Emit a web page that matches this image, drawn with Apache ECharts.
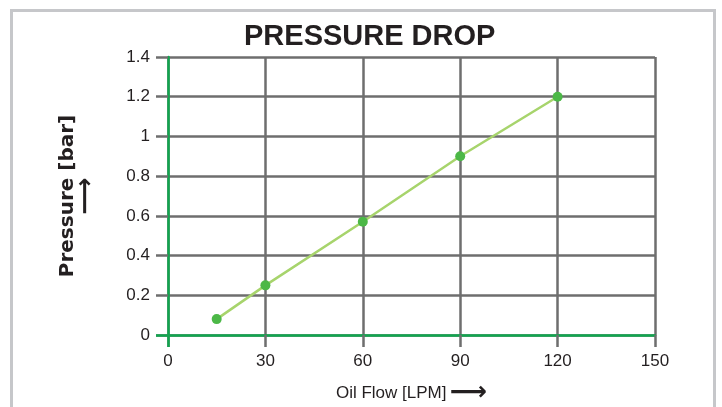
<!DOCTYPE html>
<html>
<head>
<meta charset="utf-8">
<script src="https://cdn.jsdelivr.net/npm/echarts@6/dist/echarts.min.js"></script>
<style>
html,body{margin:0;padding:0;background:#fff;}
#c{width:722px;height:407px;}
</style>
</head>
<body>
<div id="c"></div>
<script>
var flow = [15, 30, 60, 90, 120];
var pressure = [0.08, 0.25, 0.57, 0.90, 1.20];
var xTicks = { min: 0, max: 150, interval: 30 };
var yTicks = { min: 0, max: 1.4, interval: 0.2 };
var titleText = 'PRESSURE DROP';
var xName = 'Oil Flow [LPM]';
var yName = 'Pressure [bar]';
var arrow = '⟶';

var GREEN = '#10a64f';
var GRIDC = '#6e6e6e';
var TXT = '#231f20';
var FONT = '"Liberation Sans", Arial, sans-serif';

var chart = echarts.init(document.getElementById('c'), null, {renderer: 'canvas'});
var lbl = { fontSize: 17, color: TXT, fontFamily: FONT, margin: 18 };

// helper category axes only draw the green stub at the origin
function stubAxis(pos) {
  return {
    type: 'category', gridIndex: 0, data: ['', ''], boundaryGap: false,
    position: pos,
    axisLine: { show: false },
    axisTick: { show: true, inside: false, length: 12,
      interval: function (i) { return i === 0; },
      lineStyle: { color: GREEN, width: 2.5 } },
    axisLabel: { show: false },
    splitLine: { show: false },
    z: 5
  };
}

chart.setOption({
  animation: false,
  backgroundColor: '#fff',
  graphic: [{
    type: 'rect',
    shape: { x: 11.5, y: 10.5, width: 703, height: 430 },
    style: { fill: 'none', stroke: '#c6c7ca', lineWidth: 3 },
    silent: true, z: -10
  }],
  title: {
    text: titleText, left: 244, top: 22, padding: 0,
    textStyle: { fontFamily: FONT, fontSize: 29, fontWeight: 'bold', color: TXT }
  },
  grid: { left: 168, right: 67, top: 57, bottom: 72, containLabel: false, outerBoundsMode: 'none' },
  xAxis: [{
    type: 'value', min: xTicks.min, max: xTicks.max, interval: xTicks.interval,
    position: 'bottom',
    name: '{t|' + xName + '} {a|' + arrow + '}',
    nameLocation: 'middle', nameGap: 45,
    nameTextStyle: {
      rich: {
        t: { fontSize: 17, fontFamily: FONT, color: TXT },
        a: { fontSize: 26, fontFamily: '"DejaVu Sans"', fontWeight: 'bold', color: TXT }
      }
    },
    axisLine: { show: true, onZero: false, lineStyle: { color: GREEN, width: 2.5 } },
    axisTick: { show: true, inside: false, length: 12, lineStyle: { color: GRIDC, width: 2.5 } },
    axisLabel: lbl,
    splitLine: { show: true, lineStyle: { color: GRIDC, width: 2.5 } },
    z: 1
  }, stubAxis('bottom')],
  yAxis: [{
    type: 'value', min: yTicks.min, max: yTicks.max, interval: yTicks.interval,
    position: 'left',
    name: '{t|' + yName + '}\n{a|' + arrow + '}',
    nameLocation: 'middle', nameRotate: 90, nameGap: 75,
    nameTextStyle: {
      align: 'center',
      rich: {
        t: { fontSize: 20, fontFamily: '"DejaVu Sans"', fontWeight: 'bold', color: TXT, lineHeight: 22 },
        a: { fontSize: 26, fontFamily: '"DejaVu Sans"', fontWeight: 'bold', color: TXT, lineHeight: 14 }
      }
    },
    axisLine: { show: true, onZero: false, lineStyle: { color: GREEN, width: 2.5 } },
    axisTick: { show: true, inside: false, length: 12, lineStyle: { color: GRIDC, width: 2.5 } },
    axisLabel: lbl,
    splitLine: { show: true, lineStyle: { color: GRIDC, width: 2.5 } },
    z: 1
  }, stubAxis('left')],
  series: [{
    type: 'line',
    xAxisIndex: 0, yAxisIndex: 0,
    data: flow.map(function (f, i) { return [f, pressure[i]]; }),
    symbol: 'circle', symbolSize: 10,
    lineStyle: { color: '#a7d46c', width: 2.5 },
    itemStyle: { color: '#4cb847' },
    z: 10
  }]
});
</script>
</body>
</html>
